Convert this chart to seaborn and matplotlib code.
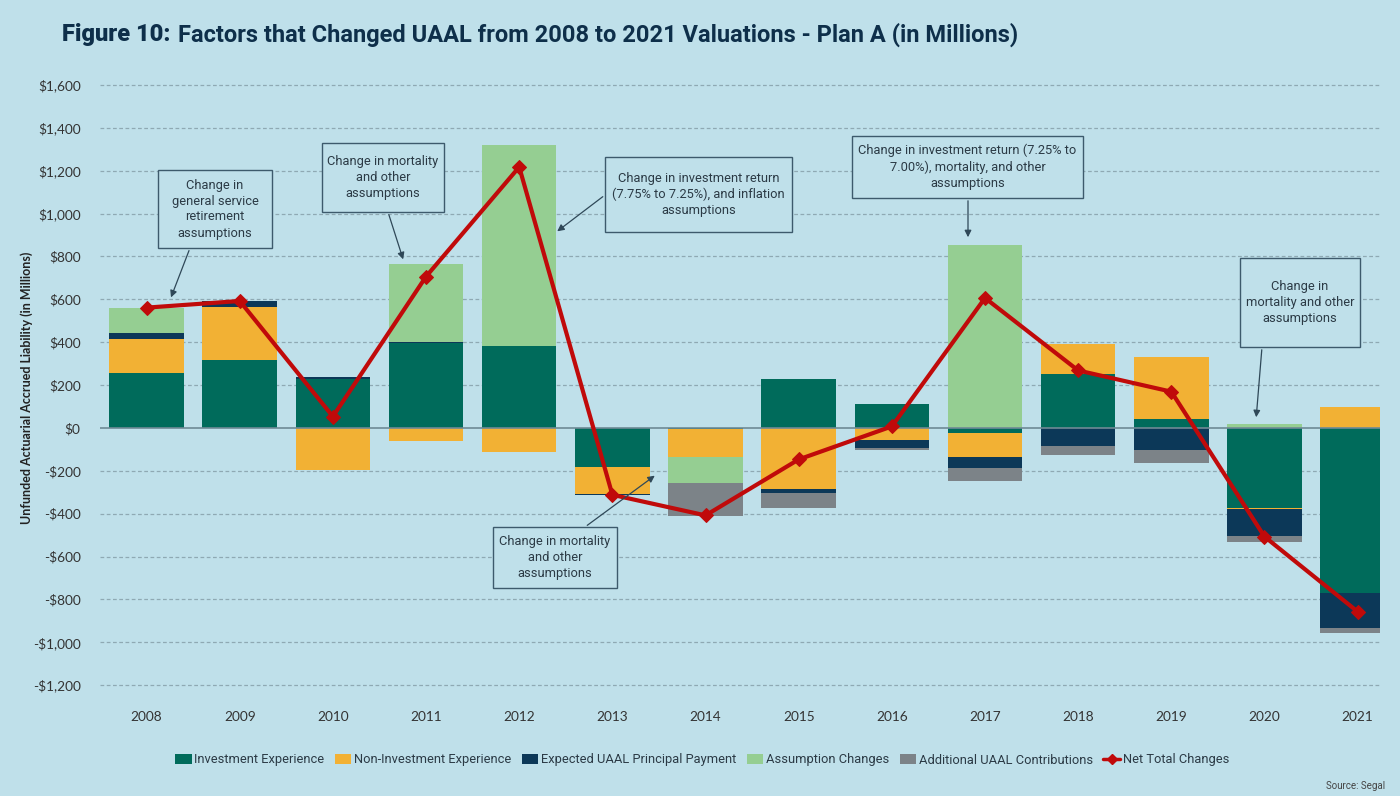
import numpy as np
import pandas as pd
import matplotlib
matplotlib.use("Agg")
import matplotlib.pyplot as plt
from matplotlib.patches import Rectangle, Patch, FancyArrowPatch
from matplotlib.lines import Line2D
import seaborn as sns

years = ["2008", "2009", "2010", "2011", "2012", "2013", "2014",
         "2015", "2016", "2017", "2018", "2019", "2020", "2021"]
investment = [255, 317, 230, 395, 382, -180, -5, 228, 112, -23, 252, 43, -375, -771]
non_investment = [159, 246, -196, -59, -110, -128, -132, -286, -55, -114, 140, 287, -5, 97]
expected_uaal = [30, 28, 9, 5, 0, -5, 0, -16, -40, -51, -84, -103, -124, -160]
assumption = [117, 0, 0, 365, 938, 0, -121, 0, 0, 853, 0, 0, 20, 0]
additional = [0, 0, 0, 0, 0, 0, -151, -73, -10, -59, -42, -62, -26, -24]
net_total = [561, 592, 53, 706, 1217, -312, -408, -147, 7, 606, 268, 169, -507, -857]

series_names = ["Investment Experience", "Non-Investment Experience",
                "Expected UAAL Principal Payment", "Assumption Changes",
                "Additional UAAL Contributions"]
series_values = [investment, non_investment, expected_uaal, assumption, additional]
colors = ["#006B5B", "#F2B134", "#0C3858", "#95CE92", "#7C8388"]
net_color = "#C00A0A"
bg = "#BFE0EA"
text_dark = "#0E2F4A"

yticks = list(range(-1200, 1601, 200))
ytick_labels = [("-$" if v < 0 else "$") + f"{abs(v):,}" for v in yticks]

sns.set_theme(style="white")
plt.rcParams["font.family"] = ["Lato", "DejaVu Sans"]
narrow = ["Roboto", "DejaVu Sans"]

W, H = 1400, 796
fig = plt.figure(figsize=(W / 100, H / 100), dpi=100, facecolor=bg)
ax = fig.add_axes([100 / W, 1 - 700 / H, (1380 - 100) / W, (700 - 75) / H])
ax.set_facecolor(bg)

x = np.arange(len(years))
pos_base = np.zeros(len(years))
neg_base = np.zeros(len(years))
for name, vals, col in zip(series_names, series_values, colors):
    v = np.array(vals, dtype=float)
    bottoms = np.where(v >= 0, pos_base, neg_base)
    ax.bar(x, v, width=0.8, bottom=bottoms, color=col, linewidth=0, zorder=3)
    pos_base = pos_base + np.where(v > 0, v, 0)
    neg_base = neg_base + np.where(v < 0, v, 0)

df_net = pd.DataFrame({"x": x, "net": net_total})
sns.lineplot(data=df_net, x="x", y="net", ax=ax, color=net_color, linewidth=3,
             marker="D", markersize=7, markeredgecolor=net_color, zorder=5)

ax.set_xlim(-0.5, 13.24)
ax.set_ylim(-1269, 1646)
ax.set_yticks(yticks)
ax.set_yticklabels(ytick_labels)
ax.set_xticks(x)
ax.set_xticklabels(years)
for v in yticks:
    if v == 0:
        ax.axhline(0, color="#6E8A95", linewidth=1.2, zorder=4)
    else:
        ax.axhline(v, color="#8FA9B3", linewidth=0.9, linestyle=(0, (3, 2)), zorder=1)
for s in ax.spines.values():
    s.set_visible(False)
ax.tick_params(axis="y", length=9, width=0.8, color="#8FA9B3", pad=5,
               labelsize=9.8, labelcolor="#333333")
ax.tick_params(axis="x", length=0, pad=8, labelsize=9.8, labelcolor="#333333")
ax.set_xlabel("")
ax.set_ylabel("Unfunded Actuarial Accrued Liability (in Millions)", fontsize=9,
              fontweight="bold", color="#222222")
ax.yaxis.set_label_coords(-0.052, 0.5)

# Title (two parts, second placed after measured width of first)
renderer = fig.canvas.get_renderer()
t1 = fig.text(62 / W, 1 - 35 / H, "Figure 10:", fontsize=17, fontweight="black",
              color=text_dark, family=narrow, va="center", ha="left")
bb = t1.get_window_extent(renderer=renderer)
t2 = fig.text((bb.x1 + 7) / W, 1 - 35 / H,
              "Factors that Changed UAAL from 2008 to 2021 Valuations - Plan A (in Millions)",
              fontsize=17, fontweight="bold", color=text_dark,
              family=narrow, va="center", ha="left")
bb2 = t2.get_window_extent(renderer=renderer)
target_right = 1057
if bb2.x1 > target_right:
    scale = (target_right - 62) / (bb2.x1 - 62)
    fs = 17 * scale
    t1.set_fontsize(fs)
    bb = t1.get_window_extent(renderer=renderer)
    t2.set_fontsize(fs)
    t2.set_x((bb.x1 + 6) / W)

# Annotation boxes (figure pixel positions)
boxes = [
    ((158, 170, 272, 248), "Change in\ngeneral service\nretirement\nassumptions", (190, 248), (170, 300)),
    ((322, 143, 444, 212), "Change in mortality\nand other\nassumptions", (388, 212), (404, 262)),
    ((605, 157, 792, 232), "Change in investment return\n(7.75% to 7.25%), and inflation\nassumptions", (605, 195), (555, 233)),
    ((852, 136, 1083, 198), "Change in investment return (7.25% to\n7.00%), mortality, and other\nassumptions", (968, 198), (968, 240)),
    ((493, 527, 617, 588), "Change in mortality\nand other\nassumptions", (585, 527), (657, 474)),
    ((1240, 258, 1360, 347), "Change in\nmortality and other\nassumptions", (1262, 347), (1256, 420)),
]
for (x0, y0, x1, y1), txt, start, end in boxes:
    rect = Rectangle((x0 / W, 1 - y1 / H), (x1 - x0) / W, (y1 - y0) / H,
                     transform=fig.transFigure, facecolor=bg, edgecolor="#3D5A6C",
                     linewidth=1.0, zorder=6)
    fig.add_artist(rect)
    fig.text((x0 + x1) / 2 / W, 1 - (y0 + y1) / 2 / H, txt, ha="center", va="center",
             fontsize=9.3, color="#2B3A45", family=narrow, linespacing=1.3, zorder=7)
    fig.add_artist(FancyArrowPatch(
        (start[0] / W, 1 - start[1] / H), (end[0] / W, 1 - end[1] / H),
        transform=fig.transFigure, arrowstyle="-|>", mutation_scale=10,
        color="#2F4858", linewidth=0.9, zorder=7))

# Legend
handles = [Patch(facecolor=c, edgecolor="none") for c in colors]
handles.append(Line2D([0], [0], color=net_color, linewidth=2.5, marker="D",
                      markersize=5))
labels = series_names + ["Net Total Changes"]
leg = fig.legend(handles, labels, loc="center", bbox_to_anchor=(702 / W, 1 - 760 / H),
                 ncol=6, frameon=False, handlelength=1.3, handleheight=0.7,
                 handletextpad=0.2, columnspacing=0.8,
                 prop={"family": narrow, "size": 9.3})
for t in leg.get_texts():
    t.set_color("#2B3A45")

fig.text(1385 / W, 1 - 786 / H, "Source: Segal", ha="right", va="center",
         fontsize=7, color="#444444", family=narrow)

fig.savefig("out.png", dpi=100, facecolor=bg)
